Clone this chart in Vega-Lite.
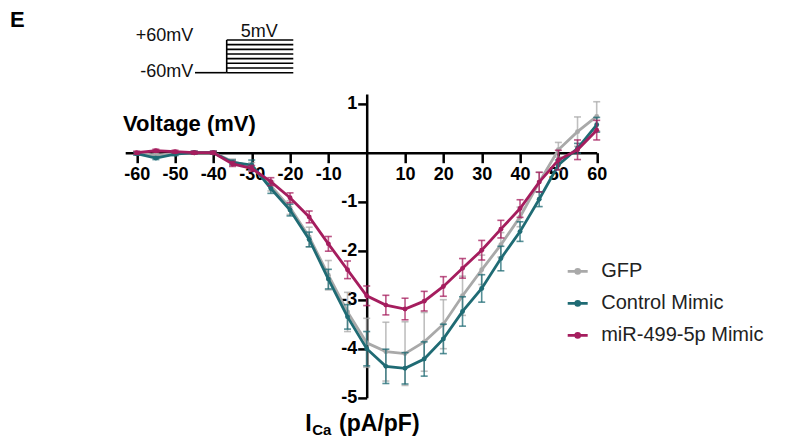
{
  "$schema": "https://vega.github.io/schema/vega-lite/v6.json",
  "autosize": "none",
  "width": 471.5,
  "height": 303.8,
  "padding": {"left": 125.2, "top": 93.9, "right": 206.3, "bottom": 46.3},
  "background": "white",
  "config": {"view": {"stroke": null}, "font": "Arial"},
  "datasets": {
    "iv": [
      {"V": -60, "group": "GFP", "I": -0.01, "sem": 0.03},
      {"V": -55, "group": "GFP", "I": -0.05, "sem": 0.03},
      {"V": -50, "group": "GFP", "I": -0.02, "sem": 0.03},
      {"V": -45, "group": "GFP", "I": 0.0, "sem": 0.03},
      {"V": -40, "group": "GFP", "I": 0.0, "sem": 0.03},
      {"V": -35, "group": "GFP", "I": -0.18, "sem": 0.05},
      {"V": -30, "group": "GFP", "I": -0.28, "sem": 0.08},
      {"V": -25, "group": "GFP", "I": -0.68, "sem": 0.1},
      {"V": -20, "group": "GFP", "I": -1.12, "sem": 0.14},
      {"V": -15, "group": "GFP", "I": -1.72, "sem": 0.2},
      {"V": -10, "group": "GFP", "I": -2.5, "sem": 0.3},
      {"V": -5, "group": "GFP", "I": -3.25, "sem": 0.4},
      {"V": 0, "group": "GFP", "I": -3.88, "sem": 0.5},
      {"V": 5, "group": "GFP", "I": -4.06, "sem": 0.6},
      {"V": 10, "group": "GFP", "I": -4.1, "sem": 0.65},
      {"V": 15, "group": "GFP", "I": -3.86, "sem": 0.6},
      {"V": 20, "group": "GFP", "I": -3.5, "sem": 0.5},
      {"V": 25, "group": "GFP", "I": -2.92, "sem": 0.4},
      {"V": 30, "group": "GFP", "I": -2.39, "sem": 0.3},
      {"V": 35, "group": "GFP", "I": -1.88, "sem": 0.25},
      {"V": 40, "group": "GFP", "I": -1.31, "sem": 0.2},
      {"V": 45, "group": "GFP", "I": -0.6, "sem": 0.2},
      {"V": 50, "group": "GFP", "I": 0.06, "sem": 0.15},
      {"V": 55, "group": "GFP", "I": 0.43, "sem": 0.3},
      {"V": 60, "group": "GFP", "I": 0.74, "sem": 0.3},
      {"V": -60, "group": "Control Mimic", "I": -0.02, "sem": 0.03},
      {"V": -55, "group": "Control Mimic", "I": -0.11, "sem": 0.03},
      {"V": -50, "group": "Control Mimic", "I": -0.03, "sem": 0.03},
      {"V": -45, "group": "Control Mimic", "I": 0.0, "sem": 0.03},
      {"V": -40, "group": "Control Mimic", "I": 0.0, "sem": 0.03},
      {"V": -35, "group": "Control Mimic", "I": -0.2, "sem": 0.05},
      {"V": -30, "group": "Control Mimic", "I": -0.25, "sem": 0.1},
      {"V": -25, "group": "Control Mimic", "I": -0.73, "sem": 0.1},
      {"V": -20, "group": "Control Mimic", "I": -1.17, "sem": 0.12},
      {"V": -15, "group": "Control Mimic", "I": -1.77, "sem": 0.15},
      {"V": -10, "group": "Control Mimic", "I": -2.58, "sem": 0.2},
      {"V": -5, "group": "Control Mimic", "I": -3.35, "sem": 0.25},
      {"V": 0, "group": "Control Mimic", "I": -4.0, "sem": 0.35},
      {"V": 5, "group": "Control Mimic", "I": -4.36, "sem": 0.35},
      {"V": 10, "group": "Control Mimic", "I": -4.4, "sem": 0.32},
      {"V": 15, "group": "Control Mimic", "I": -4.21, "sem": 0.35},
      {"V": 20, "group": "Control Mimic", "I": -3.8, "sem": 0.3},
      {"V": 25, "group": "Control Mimic", "I": -3.24, "sem": 0.3},
      {"V": 30, "group": "Control Mimic", "I": -2.77, "sem": 0.28},
      {"V": 35, "group": "Control Mimic", "I": -2.16, "sem": 0.25},
      {"V": 40, "group": "Control Mimic", "I": -1.61, "sem": 0.2},
      {"V": 45, "group": "Control Mimic", "I": -0.95, "sem": 0.15},
      {"V": 50, "group": "Control Mimic", "I": -0.25, "sem": 0.1},
      {"V": 55, "group": "Control Mimic", "I": 0.09, "sem": 0.1},
      {"V": 60, "group": "Control Mimic", "I": 0.57, "sem": 0.15},
      {"V": -60, "group": "miR-499-5p Mimic", "I": 0.0, "sem": 0.03},
      {"V": -55, "group": "miR-499-5p Mimic", "I": 0.04, "sem": 0.03},
      {"V": -50, "group": "miR-499-5p Mimic", "I": 0.02, "sem": 0.03},
      {"V": -45, "group": "miR-499-5p Mimic", "I": 0.0, "sem": 0.03},
      {"V": -40, "group": "miR-499-5p Mimic", "I": 0.0, "sem": 0.03},
      {"V": -35, "group": "miR-499-5p Mimic", "I": -0.23, "sem": 0.05},
      {"V": -30, "group": "miR-499-5p Mimic", "I": -0.32, "sem": 0.06},
      {"V": -25, "group": "miR-499-5p Mimic", "I": -0.59, "sem": 0.08},
      {"V": -20, "group": "miR-499-5p Mimic", "I": -0.92, "sem": 0.1},
      {"V": -15, "group": "miR-499-5p Mimic", "I": -1.31, "sem": 0.12},
      {"V": -10, "group": "miR-499-5p Mimic", "I": -1.86, "sem": 0.15},
      {"V": -5, "group": "miR-499-5p Mimic", "I": -2.39, "sem": 0.18},
      {"V": 0, "group": "miR-499-5p Mimic", "I": -2.92, "sem": 0.2},
      {"V": 5, "group": "miR-499-5p Mimic", "I": -3.11, "sem": 0.2},
      {"V": 10, "group": "miR-499-5p Mimic", "I": -3.19, "sem": 0.22},
      {"V": 15, "group": "miR-499-5p Mimic", "I": -3.03, "sem": 0.2},
      {"V": 20, "group": "miR-499-5p Mimic", "I": -2.73, "sem": 0.2},
      {"V": 25, "group": "miR-499-5p Mimic", "I": -2.36, "sem": 0.2},
      {"V": 30, "group": "miR-499-5p Mimic", "I": -1.99, "sem": 0.2},
      {"V": 35, "group": "miR-499-5p Mimic", "I": -1.56, "sem": 0.18},
      {"V": 40, "group": "miR-499-5p Mimic", "I": -1.14, "sem": 0.18},
      {"V": 45, "group": "miR-499-5p Mimic", "I": -0.6, "sem": 0.2},
      {"V": 50, "group": "miR-499-5p Mimic", "I": -0.15, "sem": 0.2},
      {"V": 55, "group": "miR-499-5p Mimic", "I": 0.06, "sem": 0.2},
      {"V": 60, "group": "miR-499-5p Mimic", "I": 0.46, "sem": 0.2}
    ],
    "steps": [
      {"x1": -36.52, "x2": -19.15, "y": 2.3},
      {"x1": -36.52, "x2": -19.15, "y": 2.205},
      {"x1": -36.52, "x2": -19.15, "y": 2.109},
      {"x1": -36.52, "x2": -19.15, "y": 2.014},
      {"x1": -36.52, "x2": -19.15, "y": 1.919},
      {"x1": -36.52, "x2": -19.15, "y": 1.824},
      {"x1": -36.52, "x2": -19.15, "y": 1.728},
      {"x1": -36.52, "x2": -19.15, "y": 1.633},
      {"x1": -44.79, "x2": -36.52, "y": 1.633}
    ],
    "stepv": [{"x": -36.52, "y1": 1.633, "y2": 2.3}],
    "labels": [
      {"x": -93.05, "y": 2.709, "t": "E", "kind": "panel"},
      {"x": -45.23, "y": 2.39, "t": "+60mV", "kind": "proto"},
      {"x": -45.23, "y": 1.653, "t": "-60mV", "kind": "proto"},
      {"x": -28.05, "y": 2.46, "t": "5mV", "kind": "protoc"},
      {"x": -63.57, "y": 0.586, "t": "Voltage (mV)", "kind": "title"}
    ]
  },
  "layer": [
    {
      "data": {"name": "iv"},
      "transform": [{"filter": "datum.group == 'GFP'"}],
      "layer": [
        {
          "mark": {"type": "errorbar", "ticks": {"size": 7}, "thickness": 1.6, "opacity": 0.75},
          "encoding": {
            "x": {
              "field": "V", "type": "quantitative",
              "scale": {"domain": [-63, 60], "nice": false, "zero": false},
              "axis": {
                "orient": "bottom", "offset": -245, "title": null, "grid": false,
                "values": [-60, -50, -40, -30, -20, -10, 10, 20, 30, 40, 50, 60],
                "labelExpr": "datum.value < 0 ? '-' + abs(datum.value) : '' + datum.value",
                "domainColor": "black", "domainWidth": 2.5, "tickColor": "black", "tickWidth": 2.5, "tickSize": 10,
                "labelFont": "Arial", "labelFontSize": 18, "labelFontWeight": "bold", "labelColor": "black",
                "labelPadding": 3, "labelFlush": false, "labelOverlap": false
              }
            },
            "y": {
              "field": "I", "type": "quantitative",
              "scale": {"domain": [-5, 1.2], "nice": false, "zero": false},
              "axis": {
                "orient": "left", "offset": -241.5, "title": null, "grid": false,
                "values": [1, -1, -2, -3, -4, -5],
                "labelExpr": "datum.value < 0 ? '-' + abs(datum.value) : '' + datum.value",
                "domainColor": "black", "domainWidth": 2.5, "tickColor": "black", "tickWidth": 2.5, "tickSize": 9,
                "labelFont": "Arial", "labelFontSize": 18, "labelFontWeight": "bold", "labelColor": "black",
                "labelPadding": 1, "labelFlush": false, "labelOverlap": false
              }
            },
            "yError": {"field": "sem"},
            "color": {
              "field": "group", "type": "nominal",
              "scale": {"domain": ["GFP", "Control Mimic", "miR-499-5p Mimic"], "range": ["#a9a9a9", "#1f6b74", "#a51d5e"]},
              "legend": {
                "orient": "none", "legendX": 441, "legendY": 166, "title": null,
                "symbolType": "M-1,0H1M-0.2,0A0.2,0.2,0,1,1,0.2,0A0.2,0.2,0,1,1,-0.2,0Z",
                "symbolSize": 400, "symbolStrokeWidth": 2.6, "symbolOpacity": 1,
                "labelFont": "Arial", "labelFontSize": 20, "labelColor": "#222", "labelOffset": 12,
                "labelLimit": 300, "rowPadding": 10
              }
            }
          }
        },
        {
          "mark": {"type": "line", "strokeWidth": 2.8, "point": {"filled": true, "size": 24}},
          "encoding": {
            "x": {"field": "V", "type": "quantitative"},
            "y": {"field": "I", "type": "quantitative"},
            "color": {"field": "group", "type": "nominal"}
          }
        }
      ]
    },
    {
      "data": {"name": "iv"},
      "transform": [{"filter": "datum.group == 'Control Mimic'"}],
      "layer": [
        {
          "mark": {"type": "errorbar", "ticks": {"size": 7}, "thickness": 1.6, "opacity": 0.75},
          "encoding": {
            "x": {"field": "V", "type": "quantitative"},
            "y": {"field": "I", "type": "quantitative"},
            "yError": {"field": "sem"},
            "color": {"field": "group", "type": "nominal"}
          }
        },
        {
          "mark": {"type": "line", "strokeWidth": 2.8, "point": {"filled": true, "size": 24}},
          "encoding": {
            "x": {"field": "V", "type": "quantitative"},
            "y": {"field": "I", "type": "quantitative"},
            "color": {"field": "group", "type": "nominal"}
          }
        }
      ]
    },
    {
      "data": {"name": "iv"},
      "transform": [{"filter": "datum.group == 'miR-499-5p Mimic'"}],
      "layer": [
        {
          "mark": {"type": "errorbar", "ticks": {"size": 7}, "thickness": 1.6, "opacity": 0.75},
          "encoding": {
            "x": {"field": "V", "type": "quantitative"},
            "y": {"field": "I", "type": "quantitative"},
            "yError": {"field": "sem"},
            "color": {"field": "group", "type": "nominal"}
          }
        },
        {
          "mark": {"type": "line", "strokeWidth": 2.8, "point": {"filled": true, "size": 24}},
          "encoding": {
            "x": {"field": "V", "type": "quantitative"},
            "y": {"field": "I", "type": "quantitative"},
            "color": {"field": "group", "type": "nominal"}
          }
        }
      ]
    },
    {
      "data": {"name": "steps"},
      "mark": {"type": "rule", "color": "black", "strokeWidth": 1.6},
      "encoding": {
        "x": {"field": "x1", "type": "quantitative"},
        "x2": {"field": "x2"},
        "y": {"field": "y", "type": "quantitative"}
      }
    },
    {
      "data": {"name": "stepv"},
      "mark": {"type": "rule", "color": "black", "strokeWidth": 1.6},
      "encoding": {
        "x": {"field": "x", "type": "quantitative"},
        "y": {"field": "y1", "type": "quantitative"},
        "y2": {"field": "y2"}
      }
    },
    {
      "data": {"name": "labels"},
      "transform": [{"filter": "datum.kind == 'proto'"}],
      "mark": {"type": "text", "align": "right", "baseline": "middle", "fontSize": 18, "font": "Arial", "color": "#111"},
      "encoding": {
        "x": {"field": "x", "type": "quantitative"},
        "y": {"field": "y", "type": "quantitative"},
        "text": {"field": "t"}
      }
    },
    {
      "data": {"name": "labels"},
      "transform": [{"filter": "datum.kind == 'protoc'"}],
      "mark": {"type": "text", "align": "center", "baseline": "middle", "fontSize": 18, "font": "Arial", "color": "#111"},
      "encoding": {
        "x": {"field": "x", "type": "quantitative"},
        "y": {"field": "y", "type": "quantitative"},
        "text": {"field": "t"}
      }
    },
    {
      "data": {"name": "labels"},
      "transform": [{"filter": "datum.kind == 'panel' || datum.kind == 'title'"}],
      "mark": {"type": "text", "align": "left", "baseline": "middle", "fontSize": 22, "fontWeight": "bold", "font": "Arial", "color": "black"},
      "encoding": {
        "x": {"field": "x", "type": "quantitative"},
        "y": {"field": "y", "type": "quantitative"},
        "text": {"field": "t"}
      }
    },
    {
      "data": {"values": [{"x": -16.0, "y": -5.53, "t": "I"}, {"x": -7.2, "y": -5.53, "t": "(pA/pF)"}]},
      "mark": {"type": "text", "align": "left", "baseline": "middle", "fontSize": 23, "fontWeight": "bold", "font": "Arial", "color": "black"},
      "encoding": {
        "x": {"field": "x", "type": "quantitative"},
        "y": {"field": "y", "type": "quantitative"},
        "text": {"field": "t"}
      }
    },
    {
      "data": {"values": [{"x": -14.2, "y": -5.66, "t": "Ca"}]},
      "mark": {"type": "text", "align": "left", "baseline": "middle", "fontSize": 15, "fontWeight": "bold", "font": "Arial", "color": "black"},
      "encoding": {
        "x": {"field": "x", "type": "quantitative"},
        "y": {"field": "y", "type": "quantitative"},
        "text": {"field": "t"}
      }
    }
  ]
}
